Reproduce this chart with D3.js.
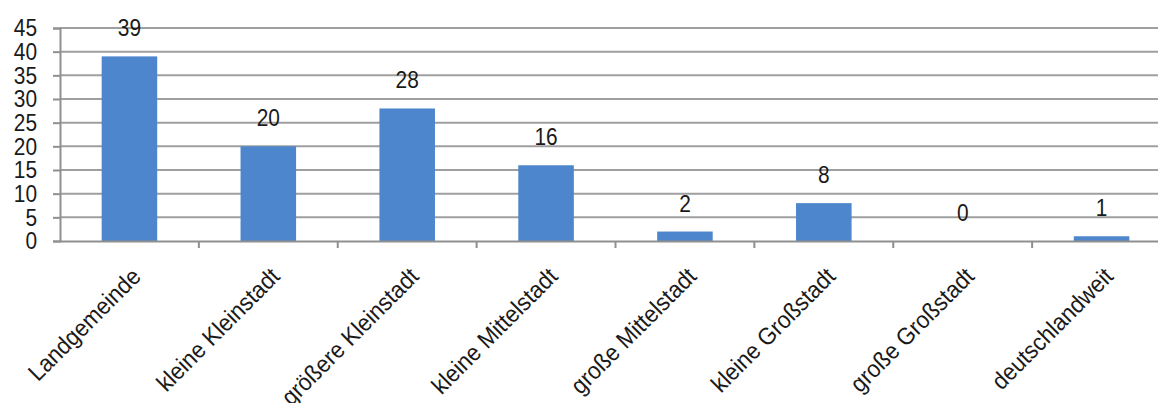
<!DOCTYPE html>
<html>
<head>
<meta charset="utf-8">
<script src="https://cdn.jsdelivr.net/npm/d3@7"></script>
<style>
  body { margin: 0; background: #fff; }
  svg text { font-family: "Liberation Sans", Arial, sans-serif; fill: #1a1a1a; }
</style>
</head>
<body>
<svg id="chart" width="1158" height="403"></svg>
<script>
const categories = ["Landgemeinde", "kleine Kleinstadt", "größere Kleinstadt", "kleine Mittelstadt",
    "große Mittelstadt", "kleine Großstadt", "große Großstadt", "deutschlandweit"];
const values = [39, 20, 28, 16, 2, 8, 0, 1];
const yTicks = [0, 5, 10, 15, 20, 25, 30, 35, 40, 45];

const svg = d3.select("#chart");
const plotLeft = 60, plotRight = 1171, plotTop = 28, plotBottom = 241;
const fontSize = 24;
const squeeze = 0.87;     // numbers look horizontally condensed
const catSqueeze = 0.93;  // category names a bit less so

const x = d3.scaleBand().domain(categories).range([plotLeft, plotRight]).padding(0);
const y = d3.scaleLinear().domain([0, 45]).range([plotBottom, plotTop]);
const barWidth = x.step() / 2.5;

// gridlines
svg.append("g")
    .selectAll("line")
    .data(yTicks.filter(t => t > 0))
    .join("line")
    .attr("x1", plotLeft)
    .attr("x2", plotRight)
    .attr("y1", d => y(d))
    .attr("y2", d => y(d))
    .attr("stroke", "#9f9f9f")
    .attr("stroke-width", 2);

// y axis
const yAxis = svg.append("g")
    .attr("transform", `translate(${plotLeft},0)`)
    .call(d3.axisLeft(y).tickValues(yTicks).tickSize(7));
yAxis.selectAll("path, line").attr("stroke", "#8f8f8f").attr("stroke-width", 2);
yAxis.selectAll("text")
    .attr("x", 0)
    .attr("transform", `translate(-23,0) scale(${squeeze},1)`)
    .attr("font-size", fontSize)
    .attr("fill", "#1a1a1a");

// bars
svg.append("g")
    .selectAll("rect")
    .data(values)
    .join("rect")
    .attr("x", (d, i) => x(categories[i]) + (x.step() - barWidth) / 2)
    .attr("y", d => y(d))
    .attr("width", barWidth)
    .attr("height", d => y(0) - y(d))
    .attr("fill", "#4d86cc");

// x axis
const xAxis = svg.append("g")
    .attr("transform", `translate(0,${plotBottom})`)
    .call(d3.axisBottom(x).tickSize(0).tickFormat(""));
xAxis.select("path").attr("stroke", "#8f8f8f").attr("stroke-width", 2);
xAxis.selectAll(".tick").remove();

// category separator ticks
svg.append("g")
    .selectAll("line")
    .data(categories)
    .join("line")
    .attr("x1", d => x(d) + x.step())
    .attr("x2", d => x(d) + x.step())
    .attr("y1", plotBottom)
    .attr("y2", plotBottom + 7)
    .attr("stroke", "#8f8f8f")
    .attr("stroke-width", 2);

// category labels
svg.append("g")
    .selectAll("text")
    .data(categories)
    .join("text")
    .attr("transform", d => `translate(${x(d) + x.step() / 2 + 7},${plotBottom + 31}) rotate(-45) scale(${catSqueeze},1)`)
    .attr("text-anchor", "end")
    .attr("dy", "0.35em")
    .attr("font-size", fontSize)
    .text(d => d);

// value labels
svg.append("g")
    .selectAll("text")
    .data(values)
    .join("text")
    .attr("transform", (d, i) => `translate(${x(categories[i]) + x.step() / 2},${y(d) - 20}) scale(${squeeze},1)`)
    .attr("text-anchor", "middle")
    .attr("font-size", fontSize)
    .text(d => d);
</script>
</body>
</html>
